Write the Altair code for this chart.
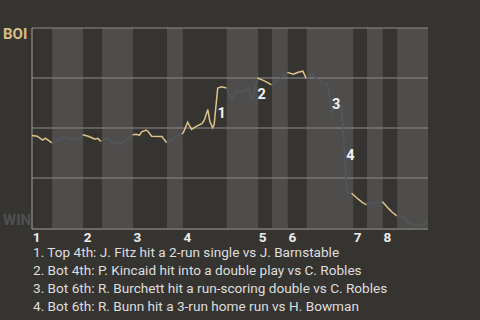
import altair as alt
import pandas as pd

# Game progress runs 0-100 across the x axis; win probability is for BOI (1 = BOI wins).
half_starts = [0, 5.1, 12.9, 17.7, 25.5, 34.1, 38.1, 49.2, 57.1, 60.6, 64.6, 69.4, 81.1, 84.6, 88.6, 92.2]
game_end = 100
inning_labels = ["1", "2", "3", "4", "5", "6", "7", "8"]

wp_x = [
    0, 1.3, 2.0, 2.7, 3.4, 4.5, 5.0,
    5.8, 7.1, 8.2, 9.2, 10.4, 12.1, 12.8,
    14.2, 15.1, 15.9, 16.6, 17.4,
    18.4, 19.3, 20.1, 21.2, 22.2, 23.5, 24.6, 25.4,
    26.4, 27.1, 27.7, 28.8, 29.4, 30.2, 32.8, 34.0,
    35.3, 36.5, 37.8,
    38.2, 39.3, 40.3, 41.6, 42.9, 43.5, 44.4, 44.9, 45.6, 46.0, 46.9, 47.9, 49.1,
    50.4, 51.5, 53.8, 54.6, 55.7, 56.9,
    58.4, 59.4, 60.5,
    61.8, 63.1, 64.5,
    66.0, 67.2, 68.4, 69.3,
    70.8, 71.7, 73.6, 74.6, 75.7, 76.5, 78.2, 79.5, 80.7,
    82.4, 83.4, 84.5,
    85.8, 87.5, 88.5,
    90.0, 90.9, 92.1,
    93.8, 95.0, 96.7, 98.4, 99.2, 100,
]
wp_y = [
    0.463, 0.459, 0.449, 0.439, 0.449, 0.433, 0.426,
    0.429, 0.446, 0.456, 0.448, 0.446, 0.446, 0.466,
    0.459, 0.451, 0.444, 0.448, 0.433,
    0.443, 0.451, 0.426, 0.426, 0.419, 0.436, 0.453, 0.466,
    0.469, 0.463, 0.481, 0.490, 0.481, 0.459, 0.458, 0.426,
    0.443, 0.459, 0.471,
    0.476, 0.529, 0.493, 0.509, 0.522, 0.539, 0.592, 0.534, 0.501, 0.517, 0.700, 0.706, 0.700,
    0.642, 0.683, 0.683, 0.700, 0.642, 0.750,
    0.738, 0.728, 0.716,
    0.736, 0.755, 0.778,
    0.769, 0.779, 0.784, 0.746,
    0.771, 0.750, 0.721, 0.721, 0.576, 0.612, 0.613, 0.178, 0.174,
    0.144, 0.128, 0.116,
    0.124, 0.128, 0.131,
    0.098, 0.080, 0.061,
    0.058, 0.028, 0.017, 0.011, 0.020, 0.032,
]

event_ids = ["1", "2", "3", "4"]
event_x = [47.9, 58.0, 76.8, 80.4]
event_y = [0.570, 0.667, 0.617, 0.358]
event_notes = [
    "Top 4th: J. Fitz hit a 2-run single vs J. Barnstable",
    "Bot 4th: P. Kincaid hit into a double play vs C. Robles",
    "Bot 6th: R. Burchett hit a run-scoring double vs C. Robles",
    "Bot 6th: R. Bunn hit a 3-run home run vs H. Bowman",
]

W, H = 396, 200
BG = "#363431"
BAND = "#4e4d4b"
GOLD = "#dcc48a"
SLATE = "#53575c"
FONT = "Roboto"

# assign each point to its half-inning
def half_of(x):
    return max(k for k, s in enumerate(half_starts) if s <= x)

pts = pd.DataFrame({"x": wp_x, "y": wp_y})
pts["half"] = pts["x"].apply(half_of)

# one line segment per half-inning, starting from the previous half's last point
seg_rows = []
for h in sorted(pts["half"].unique()):
    part = pts[pts["half"] == h]
    side = "top" if h % 2 == 0 else "bot"
    if h > 0:
        prev = pts[pts["half"] < h].iloc[-1]
        seg_rows.append({"x": prev["x"], "y": prev["y"], "seg": int(h), "ord": -1, "side": side})
    for i, r in enumerate(part.itertuples()):
        seg_rows.append({"x": r.x, "y": r.y, "seg": int(h), "ord": i, "side": side})
segs = pd.DataFrame(seg_rows)

half_ends = half_starts[1:] + [game_end]
bands = pd.DataFrame({
    "start": [s for i, s in enumerate(half_starts) if i % 2 == 1],
    "end": [e for i, e in enumerate(half_ends) if i % 2 == 1],
})

xs = alt.Scale(domain=[0, game_end], nice=False, zero=False)
ys = alt.Scale(domain=[0, 1], nice=False, zero=False)

band_layer = alt.Chart(bands).mark_rect(color=BAND).encode(
    x=alt.X("start:Q", scale=xs, axis=None),
    x2="end:Q",
    y=alt.value(0),
    y2=alt.value(H),
)

grid_layer = alt.Chart(pd.DataFrame({"g": [0.25, 0.5, 0.75, 1.0]})).mark_rule(
    color="#8c8c8c", strokeWidth=1
).encode(
    y=alt.Y("g:Q", scale=ys, axis=None),
    x=alt.value(0),
    x2=alt.value(W),
)

left_axis = alt.Chart(pd.DataFrame({"a": [0]})).mark_rule(color="#a0a0a0", strokeWidth=1).encode(
    x=alt.value(0), y=alt.value(0), y2=alt.value(H + 1)
)
bottom_axis = alt.Chart(pd.DataFrame({"a": [0]})).mark_rule(color="#a0a0a0", strokeWidth=1).encode(
    x=alt.value(0), x2=alt.value(W), y=alt.value(H + 1)
)

line_layer = alt.Chart(segs).mark_line(strokeWidth=1.5).encode(
    x=alt.X("x:Q", scale=xs),
    y=alt.Y("y:Q", scale=ys),
    color=alt.Color("side:N", scale=alt.Scale(domain=["top", "bot"], range=[GOLD, SLATE]), legend=None),
    detail="seg:N",
    order="ord:Q",
)

events = pd.DataFrame({"id": event_ids, "x": event_x, "y": event_y})
event_layer = alt.Chart(events).mark_text(
    font=FONT, fontSize=14.5, fontWeight="bold", color="#f2f2f2", align="center", baseline="middle"
).encode(x=alt.X("x:Q", scale=xs), y=alt.Y("y:Q", scale=ys), text="id:N")

innings = pd.DataFrame({
    "lab": inning_labels,
    "start": [s for i, s in enumerate(half_starts) if i % 2 == 0],
})
inning_layer = alt.Chart(innings).mark_text(
    font=FONT, fontSize=13.5, fontWeight="bold", color="#ececec", align="center", baseline="alphabetic", dx=4.5
).encode(x=alt.X("start:Q", scale=xs), y=alt.value(H + 14), text="lab:N")

boi_layer = alt.Chart(pd.DataFrame({"t": ["BOI"]})).mark_text(
    font=FONT, fontSize=15, fontWeight="bold", color="#d8bf84", align="left", baseline="alphabetic"
).encode(x=alt.value(-29), y=alt.value(11), text="t:N")

win_layer = alt.Chart(pd.DataFrame({"t": ["WIN"]})).mark_text(
    font=FONT, fontSize=15, fontWeight="bold", color="#4d5055", align="left", baseline="alphabetic"
).encode(x=alt.value(-29), y=alt.value(197), text="t:N")

notes_text = "\n".join(f"{i + 1}. {n}" for i, n in enumerate(event_notes))
notes_layer = alt.Chart(pd.DataFrame({"t": [notes_text]})).mark_text(
    font=FONT, fontSize=13.6, color="#dedede", align="left", baseline="alphabetic",
    lineBreak="\n", lineHeight=18
).encode(x=alt.value(1), y=alt.value(229), text="t:N")

chart = alt.layer(
    band_layer, grid_layer, left_axis, bottom_axis, line_layer,
    event_layer, inning_layer, boi_layer, win_layer, notes_layer,
).properties(
    width=W, height=H,
    autosize=alt.AutoSizeParams(type="none"),
    padding={"left": 32, "top": 28, "right": 52, "bottom": 92},
).configure(background=BG).configure_view(strokeWidth=0)

chart.save("out.html", embed_options={"renderer": "svg", "actions": False})
